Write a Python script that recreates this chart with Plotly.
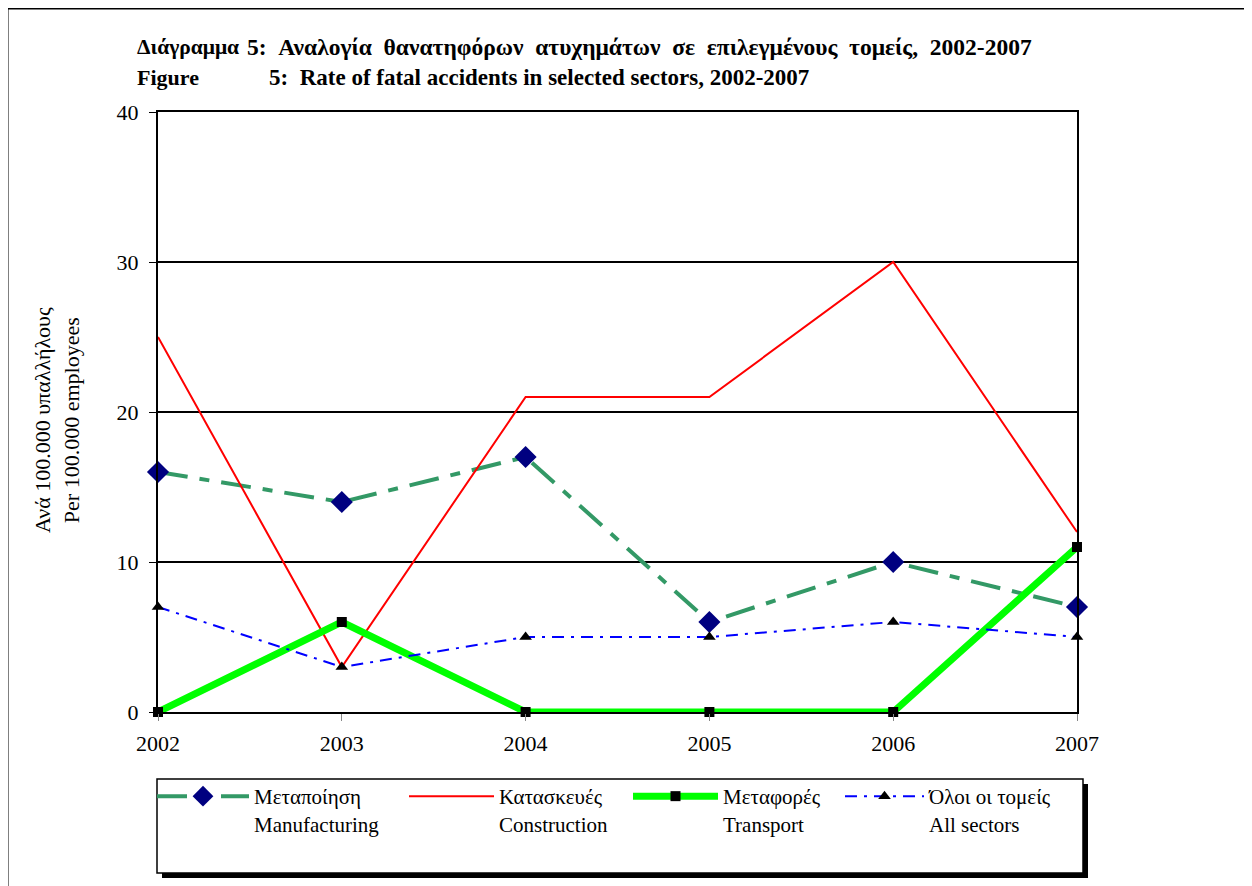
import plotly.graph_objects as go

years = [2002, 2003, 2004, 2005, 2006, 2007]
manufacturing = [16, 14, 17, 6, 10, 7]
construction = [25, 3, 21, 21, 30, 12]
transport = [0, 6, 0, 0, 0, 11]
all_sectors = [7, 3, 5, 5, 6, 5]

names = [
    "Μεταποίηση<br>Manufacturing",
    "Κατασκευές<br>Construction",
    "Μεταφορές<br>Transport",
    "Όλοι οι τομείς<br>All sectors",
]
title_gr = ["5:", "Αναλογία", "θανατηφόρων", "ατυχημάτων", "σε",
            "επιλεγμένους", "τομείς,", "2002-2007"]
title_en = "5:\u00a0\u00a0Rate of fatal accidents in selected sectors, 2002-2007"

# screen pixel positions of the plot area (page has an 8px body margin)
W, H = 1252, 886
OFF = 8
L, R, T, B = 158, 1077, 112, 712
SERIF = "Liberation Serif"


def px_x(p):
    return (p - L) / (R - L)


def px_y(p):
    return (B - p) / (B - T)


fig = go.Figure()
fig.add_trace(go.Scatter(
    x=years, y=manufacturing, name=names[0], mode="lines+markers",
    line=dict(color="#339966", width=4, dash="30px,12px,10px,12px"),
    marker=dict(symbol="diamond", size=17, color="#000080"),
    cliponaxis=False, legend="legend",
))
fig.add_trace(go.Scatter(
    x=years, y=construction, name=names[1], mode="lines",
    line=dict(color="#ff0000", width=2),
    cliponaxis=False, legend="legend2",
))
fig.add_trace(go.Scatter(
    x=years, y=transport, name=names[2], mode="lines+markers",
    line=dict(color="#00ff00", width=7),
    marker=dict(symbol="square", size=10, color="#000000"),
    cliponaxis=False, legend="legend3",
))
fig.add_trace(go.Scatter(
    x=years, y=all_sectors, name=names[3], mode="lines+markers",
    line=dict(color="#0000ff", width=2, dash="12px,7px,3px,7px"),
    marker=dict(symbol="triangle-up", size=11, color="#000000"),
    cliponaxis=False, legend="legend4",
))

legend_font = dict(family=SERIF, size=21, color="black")
legend_common = dict(
    orientation="v", xanchor="left", yanchor="top", valign="top",
    bgcolor="rgba(0,0,0,0)", borderwidth=0, font=legend_font,
    tracegroupgap=0,
)
# (symbol start, item width) per legend entry
legend_pos = [(152, 92), (404, 85), (628, 85), (840, 79)]
layout_legends = {}
for i, key in enumerate(["legend", "legend2", "legend3", "legend4"]):
    x0, iw = legend_pos[i]
    layout_legends[key] = dict(legend_common, x=px_x(x0), y=px_y(776), itemwidth=iw)

shapes = [
    # outer frame
    dict(type="rect", xref="paper", yref="paper",
         x0=px_x(7), x1=px_x(1275), y0=px_y(8), y1=px_y(900),
         line=dict(color="black", width=3), layer="below"),
    # legend box shadow
    dict(type="rect", xref="paper", yref="paper",
         x0=px_x(162), x1=px_x(1088), y0=px_y(784), y1=px_y(878),
         line=dict(width=0), fillcolor="black", layer="above"),
    # legend box
    dict(type="rect", xref="paper", yref="paper",
         x0=px_x(157), x1=px_x(1083), y0=px_y(779), y1=px_y(873),
         line=dict(color="black", width=1.5), fillcolor="white", layer="above"),
]

gap = "\u00a0\u00a0"
annotations = [
    dict(text="<b>Διάγραμμα</b>", x=px_x(135), y=px_y(47), font_size=21.5),
    dict(text="<b>" + gap.join(title_gr) + "</b>", x=px_x(245), y=px_y(47), font_size=23.5),
    dict(text="<b>Figure</b>", x=px_x(135), y=px_y(77), font_size=22),
    dict(text="<b>" + title_en + "</b>", x=px_x(267), y=px_y(77), font_size=23),
]
for a in annotations:
    a.update(xref="paper", yref="paper", xanchor="left", yanchor="middle",
             showarrow=False, font_family=SERIF, font_color="black")
annotations.append(dict(
    text="Ανά 100.000 υπαλλήλους<br>Per 100.000 employees",
    xref="paper", yref="paper", x=px_x(57), y=px_y(420),
    xanchor="center", yanchor="middle", textangle=-90, showarrow=False,
    font=dict(family=SERIF, size=22, color="black"),
))

fig.update_layout(
    width=W, height=H,
    margin=dict(l=L - OFF, r=W - (R - OFF), t=T - OFF, b=H - (B - OFF), pad=0),
    paper_bgcolor="white", plot_bgcolor="white",
    font=dict(family=SERIF, size=22, color="black"),
    showlegend=True,
    shapes=shapes, annotations=annotations,
    **layout_legends,
)
fig.update_xaxes(
    range=[2002, 2007], tickvals=years, ticks="outside", ticklen=7,
    tickcolor="#888888", tickwidth=1, showgrid=False, zeroline=False,
    showline=True, linecolor="black", linewidth=2, mirror=True,
    ticklabelstandoff=4,
)
fig.update_yaxes(
    range=[0, 40], tickvals=[0, 10, 20, 30, 40], ticks="outside", ticklen=7,
    tickcolor="black", tickwidth=1, showgrid=True, gridcolor="black",
    gridwidth=2, zeroline=False, showline=True, linecolor="black",
    linewidth=2, mirror=True, ticklabelstandoff=6,
)

fig.write_html("out.html")
